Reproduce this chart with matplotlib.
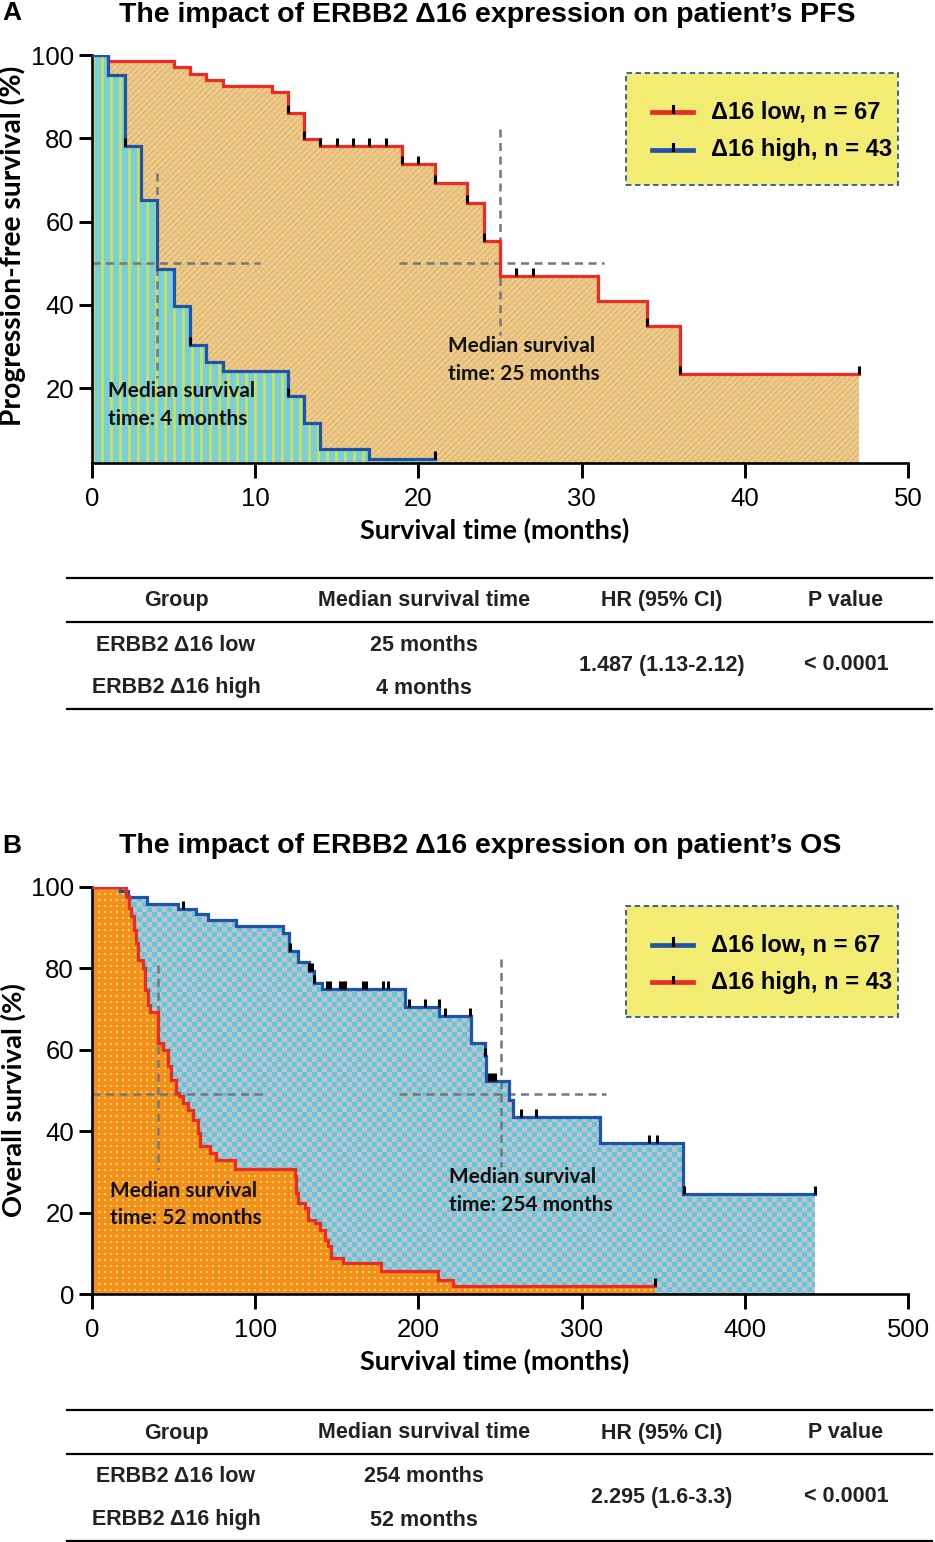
import numpy as np
import matplotlib
matplotlib.use('Agg')
import matplotlib.pyplot as plt
from matplotlib.patches import Polygon, Rectangle
from matplotlib.lines import Line2D
from matplotlib.path import Path

# ---- data ----
# PFS (panel A): step times (months) and survival (%) after each step
pfs_low_t = [0, 1, 5, 6, 7, 8, 11, 12, 13, 14, 19, 21, 23, 24, 25, 31, 34, 36, 47]
pfs_low_s = [100, 98.5, 97.0, 95.5, 94.0, 92.5, 91.0, 86.0, 79.8, 78.2, 73.8,
             69.2, 64.4, 55.4, 46.8, 41.0, 35.0, 23.4, 23.4]
pfs_low_cens = [12, 13, 14, 15, 16, 17, 18, 19, 20, 21, 23, 24, 26, 27, 34, 36, 47]

pfs_high_t = [0, 1, 2, 3, 4, 5, 6, 7, 8, 12, 13, 14, 17, 21]
pfs_high_s = [100, 95.3, 78.2, 65.2, 48.6, 39.6, 30.4, 26.2, 24.2, 18.2, 11.6,
              5.4, 3.0, 3.0]
pfs_high_cens = [2, 6, 12, 21]

# OS (panel B)
os_low_t = [0, 17, 22, 34, 53, 64, 71, 88.5, 117, 121, 126, 133, 136, 141,
            191.6, 212.8, 232, 240.8, 241.5, 255.5, 258, 311, 362, 443]
os_low_s = [100, 99.1, 97.5, 95.8, 94.6, 93.4, 92.0, 90.3, 88.7, 84.2, 81.6,
            79.3, 76.4, 75.0, 70.6, 68.3, 61.7, 58.5, 52.3, 47.7, 43.5, 37.0,
            24.5, 24.5]
os_low_cens = [56, 121.2, 133.2, 134.5, 136.2, 144, 146, 152, 153.5, 155, 166,
               168, 178.5, 181.5, 194, 204, 212.4, 216, 231.5, 241, 243, 245,
               247, 263, 272, 341, 346, 363, 443]

os_high_t = [0, 20.6, 22.7, 24.1, 25.6, 27.2, 28.2, 31.3, 32.3, 34.3, 35.4,
             40.4, 43.5, 46.6, 48.6, 51.3, 53.3, 55.8, 58.8, 61.9, 65.0, 66.0,
             72.1, 76.2, 87.4, 124.2, 125.2, 126.2, 130.3, 132.4, 136.5, 139.5,
             142.6, 144.6, 146.7, 153.8, 177.3, 212, 221.2, 344.8]
os_high_s = [100, 97.7, 94.8, 92.8, 89.5, 86.2, 82.1, 80.1, 74.8, 71.1, 69.4,
             61.7, 60.0, 55.9, 52.7, 49.4, 48.6, 46.9, 45.3, 42.8, 39.6, 36.3,
             34.6, 33.0, 30.7, 28.9, 24.8, 22.4, 21.1, 18.3, 17.4, 15.8, 13.3,
             11.7, 8.8, 7.6, 5.6, 3.5, 1.9, 1.9]
os_high_cens = [344.8]

legend_labels = ['\u039416 low, n = 67', '\u039416 high, n = 43']

table_header = ['Group', 'Median survival time', 'HR (95% CI)', 'P value']
table_groups = ['ERBB2 \u039416 low', 'ERBB2 \u039416 high']
pfs_medians = ['25 months', '4 months']
os_medians = ['254 months', '52 months']
pfs_hr, pfs_p = '1.487 (1.13-2.12)', '< 0.0001'
os_hr, os_p = '2.295 (1.6-3.3)', '< 0.0001'

# ---- style ----
W, H = 935, 1542
RED = '#EC2B25'
BLUE = '#2052A8'
ARIAL = 'Liberation Sans'
CAL = 'Lato'


def fx(x):
    return x / W


def fy(y):
    return 1 - y / H


def step_xy(t, s):
    xs, ys = [t[0]], [s[0]]
    for i in range(1, len(t)):
        xs += [t[i], t[i]]
        ys += [s[i - 1], s[i]]
    return xs, ys


def level_at(t, s, when):
    idx = np.searchsorted(t, when, side='right') - 1
    return np.asarray(s)[idx]


def pattern(kind, h, w):
    r, c = np.mgrid[0:h, 0:w]
    if kind == 'stripes':
        a, b = np.array([118, 206, 222]), np.array([198, 224, 88])
        mask = c % 9 < 3
    elif kind == 'diag':
        a, b = np.array([252, 200, 104]), np.array([186, 186, 194])
        mask = ((c + r) % 6 < 2) & ((c - r) % 10 != 0)
    elif kind == 'checker':
        a, b = np.array([90, 200, 222]), np.array([200, 192, 196])
        mask = ((r // 5) + (c // 5)) % 2 == 0
    else:  # dots
        a, b = np.array([245, 142, 32]), np.array([250, 228, 60])
        mask = (r % 6 < 2) & (c % 6 < 2)
    return np.where(mask[..., None], b, a) / 255.0


def textured_fill(ax, t, s, kind, zorder, box):
    xs, ys = step_xy(t, s)
    base = ax.get_ylim()[0]
    verts = [(xs[0], base)] + list(zip(xs, ys)) + [(xs[-1], base)]
    poly = Polygon(verts, closed=True, facecolor='none', edgecolor='none')
    ax.add_patch(poly)
    w = int(round(box[2] - box[0]))
    h = int(round(box[3] - box[1]))
    x0, x1 = ax.get_xlim()
    y0, y1 = ax.get_ylim()
    im = ax.imshow(pattern(kind, h, w), extent=(x0, x1, y0, y1), origin='upper',
                   aspect='auto', interpolation='nearest', zorder=zorder)
    im.set_clip_path(poly)


TICK = Path([(0, 0), (0, 1)])


def km_curve(ax, t, s, cens, color, zorder):
    xs, ys = step_xy(t, s)
    ax.plot(xs, ys, color=color, lw=2.3, zorder=zorder, solid_joinstyle='miter')
    lv = [level_at(t, s, c) for c in cens]
    ax.plot(cens, lv, linestyle='none', marker=TICK, ms=12, mew=2.2,
            mec='black', zorder=zorder + 0.5)


def dashed(ax, xs, ys):
    ax.plot(xs, ys, color='#777777', lw=1.8, dashes=(3.2, 2.2), zorder=2.5)


def setup_axes(box, xlim, ylim, xticks, yticks, ylabel, ysize, ypos):
    ax = fig.add_axes([fx(box[0]), fy(box[3]), fx(box[2] - box[0]),
                       (box[3] - box[1]) / H])
    ax.set_xlim(*xlim)
    ax.set_ylim(*ylim)
    for side in ['top', 'right']:
        ax.spines[side].set_visible(False)
    for side in ['left', 'bottom']:
        ax.spines[side].set_linewidth(1.9)
    ax.set_xticks(xticks)
    ax.set_yticks(yticks)
    ax.tick_params(axis='x', length=11, width=2.1, pad=6, labelsize=18.5)
    ax.tick_params(axis='y', length=9.5, width=2.1, pad=3.5, labelsize=18.5)
    for lab in ax.get_xticklabels() + ax.get_yticklabels():
        lab.set_fontfamily(ARIAL)
    ax.set_xlabel('Survival time (months)', fontsize=19.5, fontweight='bold',
                  family=CAL, labelpad=3)
    ax.xaxis.set_label_coords(0.493, -0.135)
    ax.set_ylabel(ylabel, fontsize=ysize, fontweight='bold', family=CAL)
    ax.yaxis.set_label_coords(-0.081, ypos)
    return ax


def legend_box(box, colors):
    x0, y0, x1, y1 = box
    fig.add_artist(Rectangle((fx(x0), fy(y1)), fx(x1 - x0), (y1 - y0) / H,
                             transform=fig.transFigure, facecolor='#F2EC72',
                             edgecolor='#2A55A8', lw=1.3, linestyle=(0, (3, 2))))
    rows = [y0 + 38.5, y0 + 76.5]
    for yy, col, lab in zip(rows, colors, legend_labels):
        fig.add_artist(Line2D([fx(652), fx(693)], [fy(yy), fy(yy)],
                              transform=fig.transFigure, color=col, lw=3.4))
        fig.add_artist(Line2D([fx(672.5), fx(672.5)], [fy(yy), fy(yy - 6)],
                              transform=fig.transFigure, color='black', lw=2.2))
        fig.text(fx(711), fy(yy), lab, fontsize=17, fontweight='bold',
                 family=ARIAL, va='center', ha='left')


def table(ytop, medians, hr, p):
    rules = [ytop, ytop + 44, ytop + 131]
    for yy in rules:
        fig.add_artist(Line2D([fx(67), fx(932)], [fy(yy), fy(yy)],
                              transform=fig.transFigure, color='black', lw=1.6))
    cols = [176, 424, 662, 846]
    kw = dict(fontsize=15.5, fontweight='bold', family=ARIAL, ha='center',
              va='center', color='#222222')
    for xx, txt in zip(cols, table_header):
        fig.text(fx(xx), fy(ytop + 23), txt, **kw)
    for i, yy in enumerate([ytop + 67, ytop + 110]):
        fig.text(fx(cols[0]), fy(yy), table_groups[i], **kw)
        fig.text(fx(cols[1]), fy(yy), medians[i], **kw)
    fig.text(fx(cols[2]), fy(ytop + 88), hr, **kw)
    fig.text(fx(cols[3]), fy(ytop + 87), p, **kw)


def median_note(ax, x, y, txt):
    ax.text(x, y, txt, fontsize=15, fontweight='bold', family=CAL, va='top',
            ha='left', linespacing=1.45, zorder=8, color='#111111')


fig = plt.figure(figsize=(W / 100, H / 100), dpi=100)

# ---- panel A ----
box_a = (92, 55, 908, 463)
ax1 = setup_axes(box_a, (0, 50), (2, 100), range(0, 51, 10),
                 range(20, 101, 20), 'Progression-free survival (%)', 20.3, 0.533)
textured_fill(ax1, pfs_low_t, pfs_low_s, 'diag', 1, box_a)
textured_fill(ax1, pfs_high_t, pfs_high_s, 'stripes', 1.5, box_a)
dashed(ax1, [0, 10.3], [50, 50])
dashed(ax1, [18.8, 31.4], [50, 50])
dashed(ax1, [4, 4], [71.7, 22.5])
dashed(ax1, [25, 25], [82.2, 32.8])
km_curve(ax1, pfs_low_t, pfs_low_s, pfs_low_cens, RED, 3)
km_curve(ax1, pfs_high_t, pfs_high_s, pfs_high_cens, BLUE, 4)
ax1.set_xlim(0, 50)
ax1.set_ylim(2, 100)
median_note(ax1, 0.97, 21.6, 'Median survival\ntime: 4 months')
median_note(ax1, 21.8, 32.4, 'Median survival\ntime: 25 months')
legend_box((626, 73, 898, 185), [RED, BLUE])
fig.text(fx(487), fy(15), 'The impact of ERBB2 \u039416 expression on patient\u2019s PFS',
         fontsize=20.5, fontweight='bold', family=ARIAL, ha='center', va='center')
fig.text(fx(12), fy(13), 'A', fontsize=19, fontweight='bold', family=ARIAL,
         ha='center', va='center')
table(578, pfs_medians, pfs_hr, pfs_p)

# ---- panel B ----
box_b = (92, 887, 908, 1294)
ax2 = setup_axes(box_b, (0, 500), (0, 100), range(0, 501, 100),
                 range(0, 101, 20), 'Overall survival (%)', 19.7, 0.477)
textured_fill(ax2, os_low_t, os_low_s, 'checker', 1, box_b)
textured_fill(ax2, os_high_t, os_high_s, 'dots', 1.5, box_b)
dashed(ax2, [0, 105], [49.2, 49.2])
dashed(ax2, [188, 315], [49.2, 49.2])
dashed(ax2, [40.4, 40.4], [80.9, 30.5])
dashed(ax2, [250.4, 250.4], [82.2, 31.3])
km_curve(ax2, os_low_t, os_low_s, os_low_cens, BLUE, 3)
km_curve(ax2, os_high_t, os_high_s, os_high_cens, RED, 4)
ax2.set_xlim(0, 500)
ax2.set_ylim(0, 100)
median_note(ax2, 10.8, 27.7, 'Median survival\ntime: 52 months')
median_note(ax2, 218.6, 31.1, 'Median survival\ntime: 254 months')
legend_box((626, 906, 898, 1017), [BLUE, RED])
fig.text(fx(480), fy(846), 'The impact of ERBB2 \u039416 expression on patient\u2019s OS',
         fontsize=20.5, fontweight='bold', family=ARIAL, ha='center', va='center')
fig.text(fx(12), fy(846), 'B', fontsize=19, fontweight='bold', family=ARIAL,
         ha='center', va='center')
table(1410, os_medians, os_hr, os_p)

fig.savefig('out.png', dpi=100)
